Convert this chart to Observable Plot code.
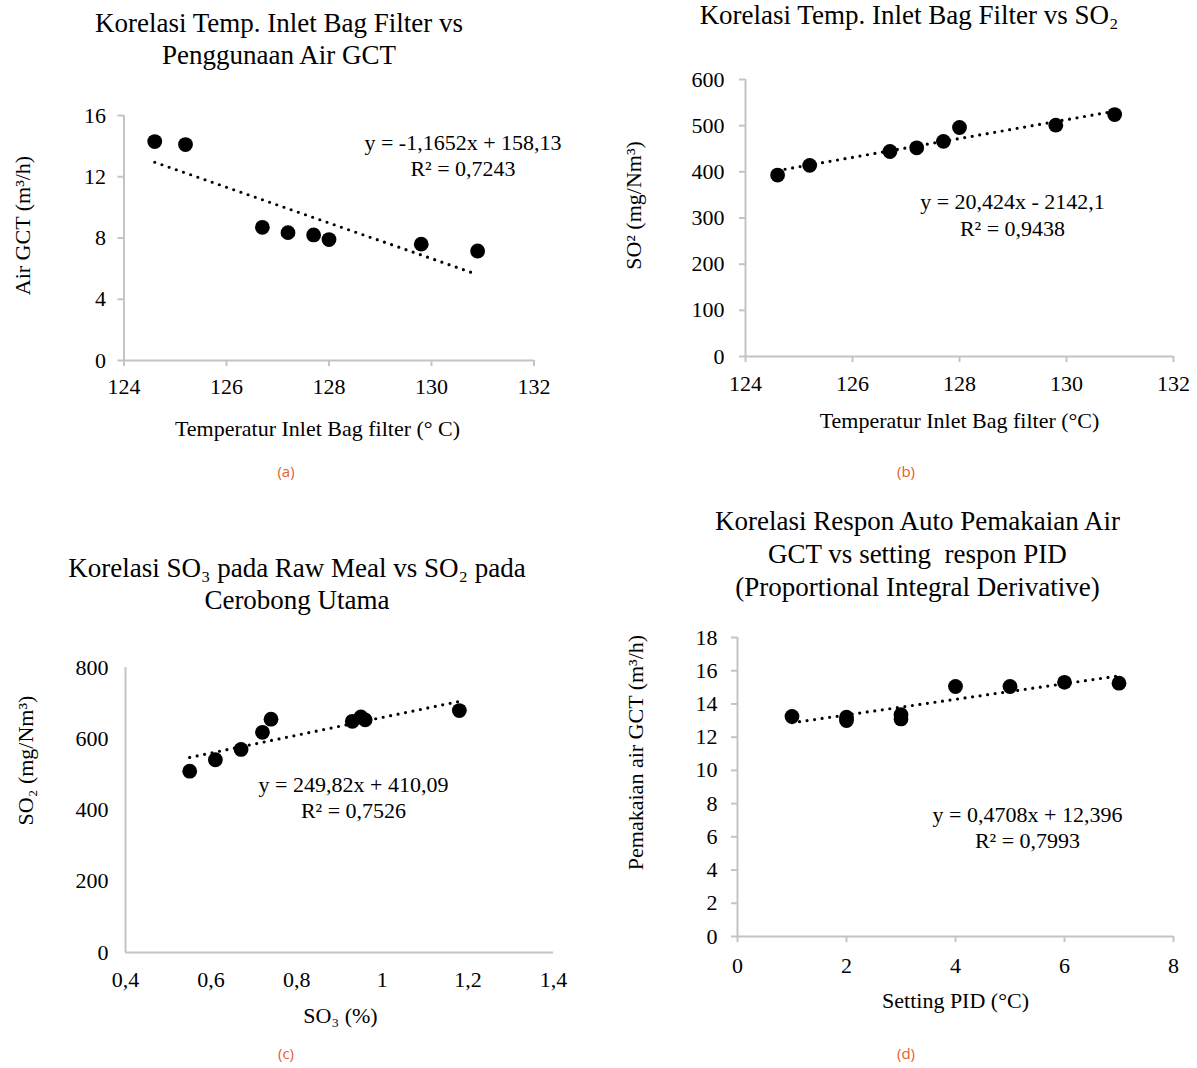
<!DOCTYPE html>
<html><head><meta charset="utf-8">
<script src="https://cdn.jsdelivr.net/npm/d3@7"></script>
<script src="https://cdn.jsdelivr.net/npm/@observablehq/plot@0.6"></script>
<style>
body{margin:0;background:#fff;}
#page{position:relative;width:1197px;height:1068px;overflow:hidden;background:#fff;font-family:"Liberation Serif","Times New Roman",serif;}
.title{position:absolute;width:600px;text-align:center;font-size:27px;line-height:32px;color:#000;white-space:pre;z-index:2;}
.cap{position:absolute;width:60px;text-align:center;font-family:"Open Sans",sans-serif;font-size:15px;line-height:18px;color:#e5602a;}
.panel{position:absolute;z-index:1;}
</style></head><body><div id="page"></div>
<script>
// ---- data ----
const tempInlet   = [124.6, 125.2, 126.7, 127.2, 127.7, 128.0, 129.8, 130.9];
const airGCT      = [14.3, 14.1, 8.7, 8.35, 8.2, 7.9, 7.6, 7.15];
const so2Inlet    = [393, 414, 444, 452, 466, 496, 501, 524];
const so3RawMeal  = [0.55, 0.61, 0.67, 0.72, 0.74, 0.93, 0.95, 0.96, 1.18];
const so2Chimney  = [509, 541, 570, 618, 655, 649, 661, 653, 679];
const pidSetting  = [1, 2, 2, 3, 3, 4, 5, 6, 7];
const airUsage    = [13.25, 13.2, 13.0, 13.35, 13.1, 15.05, 15.05, 15.3, 15.25];

const slopes      = [-1.1652, 20.424, 249.82, 0.4708];
const intercepts  = [158.13, -2142.1, 410.09, 12.396];
const equations   = ["y = -1,1652x + 158,13\nR² = 0,7243", "y = 20,424x - 2142,1\nR² = 0,9438",
                     "y = 249,82x + 410,09\nR² = 0,7526", "y = 0,4708x + 12,396\nR² = 0,7993"];

const ticksXa = [124, 126, 128, 130, 132];
const ticksYa = [0, 4, 8, 12, 16];
const ticksYb = [0, 100, 200, 300, 400, 500, 600];
const ticksXc = [0.4, 0.6, 0.8, 1, 1.2, 1.4];
const ticksYc = [0, 200, 400, 600, 800];
const ticksXd = [0, 2, 4, 6, 8];
const ticksYd = [0, 2, 4, 6, 8, 10, 12, 14, 16, 18];

const titles = [
  "Korelasi Temp. Inlet Bag Filter vs\nPenggunaan Air GCT",
  "Korelasi Temp. Inlet Bag Filter vs SO₂",
  "Korelasi SO₃ pada Raw Meal vs SO₂ pada\nCerobong Utama",
  "Korelasi Respon Auto Pemakaian Air\nGCT vs setting  respon PID\n(Proportional Integral Derivative)"
];
const xLabels = ["Temperatur Inlet Bag filter (° C)", "Temperatur Inlet Bag filter (°C)", "SO₃ (%)", "Setting PID (°C)"];
const yLabels = ["Air GCT (m³/h)", "SO² (mg/Nm³)", "SO₂ (mg/Nm³)", "Pemakaian air GCT (m³/h)"];
const captions = ["(a)", "(b)", "(c)", "(d)"];

// ---- layout ----
const AXIS = "#c4c4c4";
const page = document.getElementById("page");
const fmt = d => String(d).replace(".", ",");

const panels = [
  {xs: tempInlet, ys: airGCT, xDomain: [124, 132], yDomain: [0, 16], xTicks: ticksXa, yTicks: ticksYa,
   left: 0, top: 90, width: 598, height: 370, ml: 123.5, mr: 64.5, mt: 25, mb: 100,
   tick: 6, xPad: 12, yPad: 12,
   eq: [-71, 39], xl: [-11.5, 68], yl: [-101.5, -12.5],
   title: [279, 7], lh: 32, cap: [286, 462]},
  {xs: tempInlet, ys: so2Inlet, xDomain: [124, 132], yDomain: [0, 600], xTicks: ticksXa, yTicks: ticksYb,
   left: 600, top: 55, width: 597, height: 405, ml: 145, mr: 24, mt: 24, mb: 104,
   tick: 6, xPad: 13, yPad: 15,
   eq: [-161, 134.5], xl: [0, 64], yl: [-112, -12.5],
   title: [909, 0], lh: 30, cap: [906, 462]},
  {xs: so3RawMeal, ys: so2Chimney, xDomain: [0.4, 1.4], yDomain: [0, 800], xTicks: ticksXc, yTicks: ticksYc,
   left: 0, top: 640, width: 598, height: 410, ml: 125, mr: 45, mt: 27, mb: 98,
   tick: 0, xPad: 19, yPad: 17,
   eq: [-200, 129], xl: [1, 63], yl: [-100, -49.5],
   title: [297, 552], lh: 32, cap: [286, 1044]},
  {xs: pidSetting, ys: airUsage, xDomain: [0, 8], yDomain: [0, 18], xTicks: ticksXd, yTicks: ticksYd,
   left: 600, top: 610, width: 597, height: 440, ml: 137, mr: 24, mt: 27, mb: 114,
   tick: 6, xPad: 15, yPad: 14,
   eq: [-146, 189], xl: [0, 64], yl: [-102, -34.5],
   title: [917.5, 505], lh: 33, cap: [906, 1044]}
];

panels.forEach((p, i) => {
  const data = p.xs.map((x, j) => ({x, y: p.ys[j]}));
  const [x0, x1] = d3.extent(p.xs);
  const trend = [x0, x1].map(x => ({x, y: slopes[i] * x + intercepts[i]}));
  const chart = Plot.plot({
    width: p.width, height: p.height,
    marginLeft: p.ml, marginRight: p.mr, marginTop: p.mt, marginBottom: p.mb,
    style: {fontFamily: "'Liberation Serif','Times New Roman',serif", fontSize: "22px", color: "#000", background: "transparent", overflow: "visible"},
    x: {domain: p.xDomain, nice: false},
    y: {domain: p.yDomain, nice: false},
    marks: [
      Plot.ruleY([p.yDomain[0]], {stroke: AXIS, strokeWidth: 2}),
      Plot.ruleX([p.xDomain[0]], {stroke: AXIS, strokeWidth: 2}),
      Plot.axisX({ticks: p.xTicks, tickSize: p.tick, tickPadding: p.xPad, stroke: AXIS, strokeWidth: 2,
                  fill: "#000", fontSize: 22, tickFormat: fmt, label: null}),
      Plot.axisY({ticks: p.yTicks, tickSize: p.tick, tickPadding: p.yPad, stroke: AXIS, strokeWidth: 2,
                  fill: "#000", fontSize: 22, tickFormat: fmt, label: null}),
      Plot.dot(data, {x: "x", y: "y", r: 7.4, fill: "#000", stroke: "none"}),
      Plot.line(trend, {x: "x", y: "y", stroke: "#000", strokeWidth: 3.2, strokeDasharray: "0 7.6", strokeLinecap: "round"}),
      Plot.text([equations[i]], {text: d => d, frameAnchor: "top-right", dx: p.eq[0], dy: p.eq[1],
                  textAnchor: "middle", lineAnchor: "middle", lineHeight: 1.2, fontSize: 22, fill: "#000"}),
      Plot.text([xLabels[i]], {text: d => d, frameAnchor: "bottom", dx: p.xl[0], dy: p.xl[1],
                  textAnchor: "middle", lineAnchor: "middle", fontSize: 22, fill: "#000"}),
      Plot.text([yLabels[i]], {text: d => d, frameAnchor: "left", dx: p.yl[0], dy: p.yl[1], rotate: -90,
                  textAnchor: "middle", lineAnchor: "middle", fontSize: 22, fill: "#000"})
    ]
  });
  const wrap = document.createElement("div");
  wrap.className = "panel";
  wrap.style.left = p.left + "px";
  wrap.style.top = p.top + "px";
  wrap.appendChild(chart);
  page.appendChild(wrap);

  const t = document.createElement("div");
  t.className = "title";
  t.style.left = (p.title[0] - 300) + "px";
  t.style.top = p.title[1] + "px";
  t.style.lineHeight = p.lh + "px";
  t.textContent = titles[i];
  page.appendChild(t);

  const c = document.createElement("div");
  c.className = "cap";
  c.style.left = (p.cap[0] - 30) + "px";
  c.style.top = p.cap[1] + "px";
  c.textContent = captions[i];
  page.appendChild(c);
});
</script>
</body></html>
